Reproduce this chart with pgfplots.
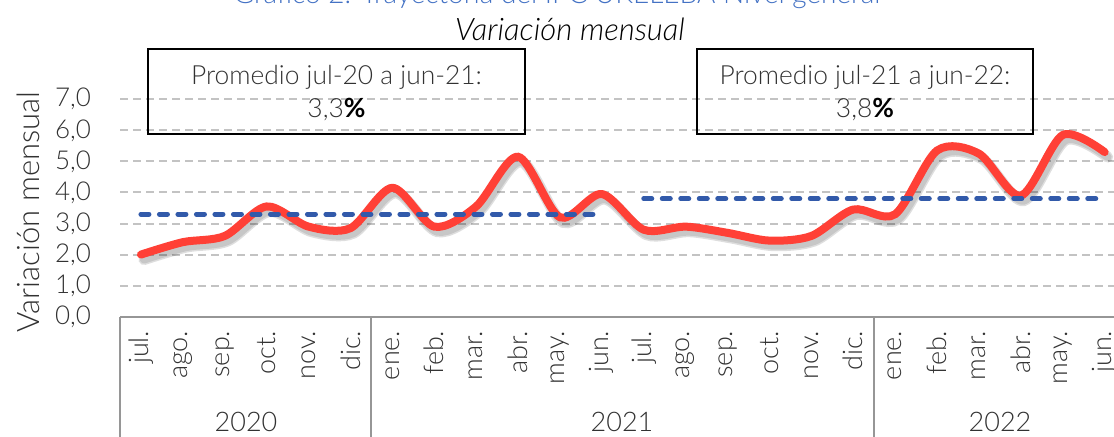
\documentclass[border=0pt]{standalone}
\usepackage{fontspec}
\setmainfont{Lato}[UprightFont={* Light},ItalicFont={* Light Italic},BoldFont={* Bold}]
\usepackage{pgfplots}
\usepackage{pgfplotstable}
\pgfplotsset{compat=1.18}
\definecolor{redline}{RGB}{255,64,54}
\definecolor{blueline}{RGB}{50,90,170}
\definecolor{titleblue}{RGB}{68,114,196}
\definecolor{gridc}{RGB}{195,195,195}
\definecolor{txt}{RGB}{50,50,50}
\definecolor{sepc}{RGB}{150,150,150}
\pgfplotstableread{
x y
0 2.0
1 2.4
2 2.6
3 3.55
4 2.9
5 2.85
6 4.15
7 2.9
8 3.55
9 5.15
10 3.2
11 3.95
12 2.8
13 2.9
14 2.7
15 2.45
16 2.6
17 3.45
18 3.3
19 5.35
20 5.25
21 3.9
22 5.85
23 5.3
}\ipc
\begin{document}
\begin{tikzpicture}
\useasboundingbox (0,0) rectangle (557pt,218.5pt);
\begin{axis}[
 at={(60pt,60.15pt)}, anchor=south west,
 scale only axis, width=502.8pt, height=108.7pt,
 xmin=-0.5, xmax=23.5, ymin=0, ymax=7,
 axis line style={draw=none},
 major tick length=0pt,
 clip=false,
 ytick={1,...,7}, extra y ticks={0}, extra y tick style={grid=none},
 ymajorgrids, grid style={gridc, line width=1pt, dash pattern=on 4pt off 2.5pt},
 /pgf/number format/use comma, /pgf/number format/fixed,
 /pgf/number format/fixed zerofill, /pgf/number format/precision=1,
 /pgf/number format/assume math mode=true,
 tick label style={font=\fontsize{13}{15}\selectfont, text=txt},
 yticklabel style={xshift=-11pt},
 xtick={0,...,23},
 xticklabels={jul.,ago.,sep.,oct.,nov.,dic.,ene.,feb.,mar.,abr.,may.,jun.,jul.,ago.,sep.,oct.,nov.,dic.,ene.,feb.,mar.,abr.,may.,jun.},
 xticklabel shift=3.5pt,
 xticklabel style={rotate=90, anchor=east, font=\fontsize{13.5}{15}\selectfont},
]
\addplot[black, opacity=0.13, line width=5.5pt, smooth, line cap=round, xshift=1.5pt, yshift=-2.5pt] table[x=x,y=y] {\ipc};
\addplot[black, opacity=0.10, line width=4pt, smooth, line cap=round, xshift=1.5pt, yshift=-2.5pt] table[x=x,y=y] {\ipc};
\addplot[redline, line width=4pt, smooth, line cap=round] table[x=x,y=y] {\ipc};
\addplot[blueline, line width=2.5pt, line cap=round, dash pattern=on 4pt off 5.25pt] coordinates {(0,3.3) (11,3.3)};
\addplot[blueline, line width=2.5pt, line cap=round, dash pattern=on 4pt off 5.25pt] coordinates {(12,3.8) (23,3.8)};
\end{axis}
% category table
\draw[sepc, line width=1pt] (60pt,60.15pt) -- (557pt,60.15pt);
\draw[sepc, line width=1pt] (60pt,60.15pt) -- (60pt,0pt);
\draw[sepc, line width=1pt] (185.5pt,60.15pt) -- (185.5pt,0pt);
\draw[sepc, line width=1pt] (437pt,60.15pt) -- (437pt,0pt);
\node[font=\fontsize{13.5}{15}\selectfont, text=txt] at (123pt,7.5pt) {2020};
\node[font=\fontsize{13.5}{15}\selectfont, text=txt] at (311pt,7.5pt) {2021};
\node[font=\fontsize{13.5}{15}\selectfont, text=txt] at (500pt,7.5pt) {2022};
% y label
\node[rotate=90, font=\fontsize{15.5}{17}\selectfont, text=txt] at (14pt,112.5pt) {Variación mensual};
% boxes
\draw[black, line width=0.8pt] (74pt,151.5pt) rectangle (262.5pt,194pt);
\draw[black, line width=0.8pt] (348.5pt,151.5pt) rectangle (516.5pt,194pt);
\node[font=\fontsize{13.2}{15}\selectfont, text=txt] at (168.25pt,180pt) {Promedio jul-20 a jun-21:};
\node[font=\fontsize{13.2}{15}\selectfont, text=txt] at (168.25pt,163.5pt) {3,3\textbf{\textcolor{black}{\%}}};
\node[font=\fontsize{13.2}{15}\selectfont, text=txt] at (432.5pt,180pt) {Promedio jul-21 a jun-22:};
\node[font=\fontsize{13.2}{15}\selectfont, text=txt] at (432.5pt,163.5pt) {3,8\textbf{\textcolor{black}{\%}}};
% titles
\node[font=\fontsize{15.5}{17}\selectfont\itshape, text=black] at (285pt,204pt) {Variación mensual};
\node[font=\fontsize{14}{16}\selectfont, text=titleblue, anchor=base] at (278.5pt,216.8pt) {Gráfico 2. Trayectoria del IPC UKELEBA Nivel general};
\end{tikzpicture}
\end{document}
